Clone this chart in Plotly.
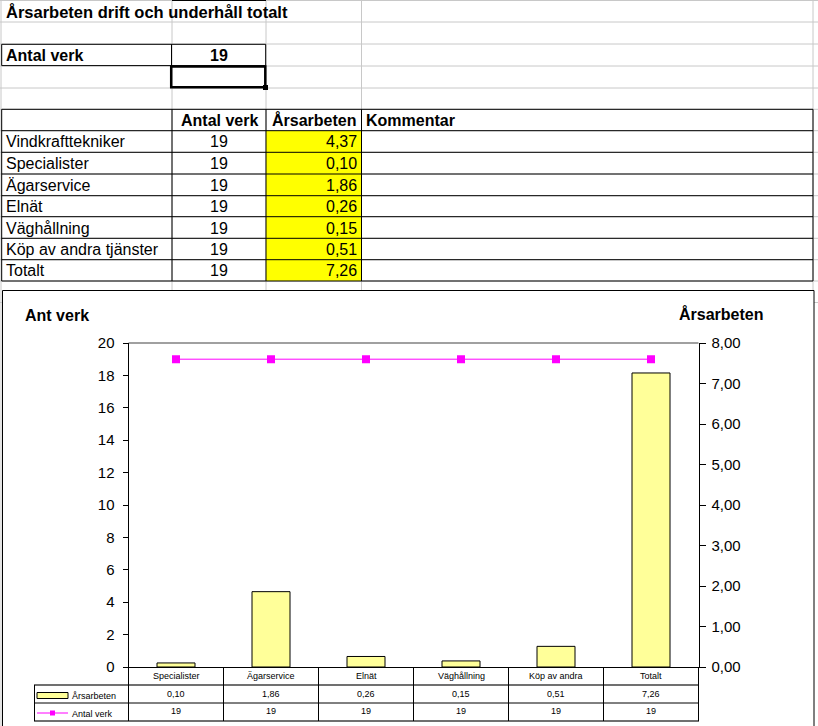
import plotly.graph_objects as go

W, H = 818, 726

# ---------------- data ----------------
sheet_title = "Årsarbeten drift och underhåll totalt"
antal_verk_label = "Antal verk"
antal_verk_total = 19
table_headers = ["Antal verk", "Årsarbeten", "Kommentar"]
table_categories = ["Vindkrafttekniker", "Specialister", "Ägarservice", "Elnät",
                    "Väghållning", "Köp av andra tjänster", "Totalt"]
table_antal_verk = [19, 19, 19, 19, 19, 19, 19]
table_arsarbeten = [4.37, 0.10, 1.86, 0.26, 0.15, 0.51, 7.26]

chart_categories = ["Specialister", "Ägarservice", "Elnät", "Väghållning", "Köp av andra", "Totalt"]
chart_arsarbeten = [0.10, 1.86, 0.26, 0.15, 0.51, 7.26]
chart_antal_verk = [19, 19, 19, 19, 19, 19]
left_ticks = [0, 2, 4, 6, 8, 10, 12, 14, 16, 18, 20]
right_ticks = [0, 1, 2, 3, 4, 5, 6, 7, 8]

FONT = "Liberation Sans, Arial, sans-serif"


def fx(p):
    return p / W


def fy(p):
    return 1 - p / H


def comma(v):
    return f"{v:.2f}".replace(".", ",")


shapes = []
annotations = []


def line(x0, y0, x1, y1, color="#000", width=1, layer="below"):
    shapes.append(dict(type="line", xref="paper", yref="paper",
                       x0=fx(x0), y0=fy(y0), x1=fx(x1), y1=fy(y1),
                       line=dict(color=color, width=width), layer=layer))


def rect(x0, y0, x1, y1, fill=None, color="#000", width=1, layer="below"):
    shapes.append(dict(type="rect", xref="paper", yref="paper",
                       x0=fx(x0), y0=fy(y0), x1=fx(x1), y1=fy(y1),
                       fillcolor=fill if fill else "rgba(0,0,0,0)",
                       line=dict(color=color, width=width), layer=layer))


def text(x, y, s, size=16, anchor="left", bold=False, xref="paper"):
    annotations.append(dict(
        xref=xref, yref="paper",
        x=(fx(x) if xref == "paper" else x), y=fy(y),
        text=(f"<b>{s}</b>" if bold else s), showarrow=False,
        xanchor=anchor, yanchor="middle",
        font=dict(family=FONT, size=size, color="#000"),
        borderpad=0))


# ---------------- spreadsheet grid ----------------
GRID = "#C8C8C8"
row_lines = [0.5, 22, 44, 66, 88, 109.3, 130.7, 152.3, 174, 195.7, 216.7, 238.3, 259.7, 281, 302.5]
col_lines = [1, 172, 266, 361.5, 813]
for r in row_lines:
    line(0, r, W, r, GRID)
for c in col_lines:
    line(c, 0, c, H, GRID)
line(172, 0.5, 266, 0.5, "#000")

# title
text(5, 12, sheet_title, 16.5, bold=True)

# Antal verk box
rect(1.7, 44.3, 265.7, 65.6)
line(171.5, 44.3, 171.5, 65.6)
text(5, 55.5, antal_verk_label, 16, bold=True)
text(219, 55.5, str(antal_verk_total), 16, anchor="center", bold=True)

# selected cell
rect(171.2, 66.6, 265.3, 87.2, width=2.5)
rect(263, 85, 268, 90, fill="#000", width=0)

# main table
row_b = [109.3, 130.7, 152.3, 174, 195.7, 216.7, 238.3, 259.7, 281]
rect(266, row_b[1], 361.5, row_b[-1], fill="#FFFF00", width=0)
for r in row_b:
    line(1.7, r, 813, r, "#000")
for c in [1.7, 172, 266, 361.5, 813]:
    line(c, row_b[0], c, row_b[-1], "#000")

hy = (row_b[0] + row_b[1]) / 2 + 0.5
text(219, hy, table_headers[0], 16, anchor="center", bold=True)
text(313.5, hy, table_headers[1], 16, anchor="center", bold=True)
text(365, hy, table_headers[2], 16, bold=True)
for i, cat in enumerate(table_categories):
    cy = (row_b[i + 1] + row_b[i + 2]) / 2 + 0.5
    text(5, cy, cat, 16)
    text(219, cy, str(table_antal_verk[i]), 16, anchor="center")
    text(358, cy, comma(table_arsarbeten[i]), 16, anchor="right")

# ---------------- chart area ----------------
rect(2.5, 290.5, 814, 760, fill="#FFFFFF", color="#000", width=1)

# plot area top border (gray)
shapes.append(dict(type="line", xref="x domain", yref="y domain", x0=0, x1=1, y0=1, y1=1,
                   line=dict(color="#808080", width=1.5), layer="below"))

# data table under the chart
TGRAY = "#707070"
line(34, 685, 699, 685, TGRAY, 2, "above")
line(34, 703, 699, 703, "#000", 1, "above")
line(34, 721, 699, 721, TGRAY, 2, "above")
line(34.5, 685, 34.5, 721, "#000", 1, "above")
line(128.5, 667, 128.5, 721, "#000", 1, "above")
line(698.5, 667, 698.5, 721, "#000", 1, "above")
for i in range(len(chart_categories) - 1):
    shapes.append(dict(type="line", xref="x", yref="paper", x0=i + 0.5, x1=i + 0.5,
                       y0=fy(667), y1=fy(721), line=dict(color="#000", width=1), layer="above"))

for i, cat in enumerate(chart_categories):
    text(cat, 676, cat, 9, anchor="center", xref="x")
    text(cat, 694, comma(chart_arsarbeten[i]), 9, anchor="center", xref="x")
    text(cat, 711, str(chart_antal_verk[i]), 9, anchor="center", xref="x")

# legend keys
rect(37, 692.5, 68, 698.5, fill="#FFFF99", color="#000", width=1, layer="above")
text(71, 696, "Årsarbeten", 9)
line(37, 713, 68, 713, "#FF00FF", 1, "above")
rect(50, 710.5, 55, 715.5, fill="#FF00FF", color="#FF00FF", width=0, layer="above")
text(71, 713.5, "Antal verk", 9)

# axis titles
text(24, 315, "Ant verk", 16, bold=True)
text(678, 314, "Årsarbeten", 16, bold=True)

# ---------------- traces ----------------
fig = go.Figure()
fig.add_trace(go.Bar(
    x=chart_categories, y=chart_arsarbeten, yaxis="y2", name="Årsarbeten",
    marker=dict(color="#FFFF99", line=dict(color="#000", width=1)),
    showlegend=False, hoverinfo="skip"))
fig.add_trace(go.Scatter(
    x=chart_categories, y=chart_antal_verk, yaxis="y", name="Antal verk",
    mode="lines+markers",
    line=dict(color="#FF00FF", width=1),
    marker=dict(symbol="square", size=8, color="#FF00FF", line=dict(width=0)),
    showlegend=False, hoverinfo="skip"))

fig.update_layout(
    template="none",
    width=W, height=H,
    autosize=False,
    margin=dict(l=0, r=0, t=0, b=0, pad=0, autoexpand=False),
    paper_bgcolor="#FFFFFF",
    plot_bgcolor="rgba(0,0,0,0)",
    separators=", ",
    bargap=0.6,
    showlegend=False,
    font=dict(family=FONT, color="#000"),
    xaxis=dict(domain=[fx(128.5), fx(698.5)], type="category", range=[-0.5, 5.5],
               showticklabels=False, ticks="", showline=True, linecolor="#000", linewidth=1,
               showgrid=False, zeroline=False, fixedrange=True, automargin=False),
    yaxis=dict(domain=[fy(667), fy(343)], range=[0, 20], tickmode="array", tickvals=left_ticks,
               ticks="outside", ticklen=5, tickcolor="#000", showline=True, linecolor="#000",
               linewidth=1, showgrid=False, zeroline=False, automargin=False,
               ticklabelstandoff=5,
               tickfont=dict(family=FONT, size=15, color="#000"), fixedrange=True),
    yaxis2=dict(overlaying="y", side="right", anchor="x", range=[0, 8], tickmode="array",
                tickvals=right_ticks, tickformat=".2f", automargin=False,
                ticklabelstandoff=3,
                ticks="outside", ticklen=6, tickcolor="#000", showline=True, linecolor="#000",
                linewidth=1, showgrid=False, zeroline=False,
                tickfont=dict(family=FONT, size=15, color="#000"), fixedrange=True),
    shapes=shapes,
    annotations=annotations,
)

fig.write_html(
    "out.html",
    config={"displayModeBar": False, "responsive": False},
    post_script="document.body.style.margin='0';document.body.style.overflow='hidden';",
)
